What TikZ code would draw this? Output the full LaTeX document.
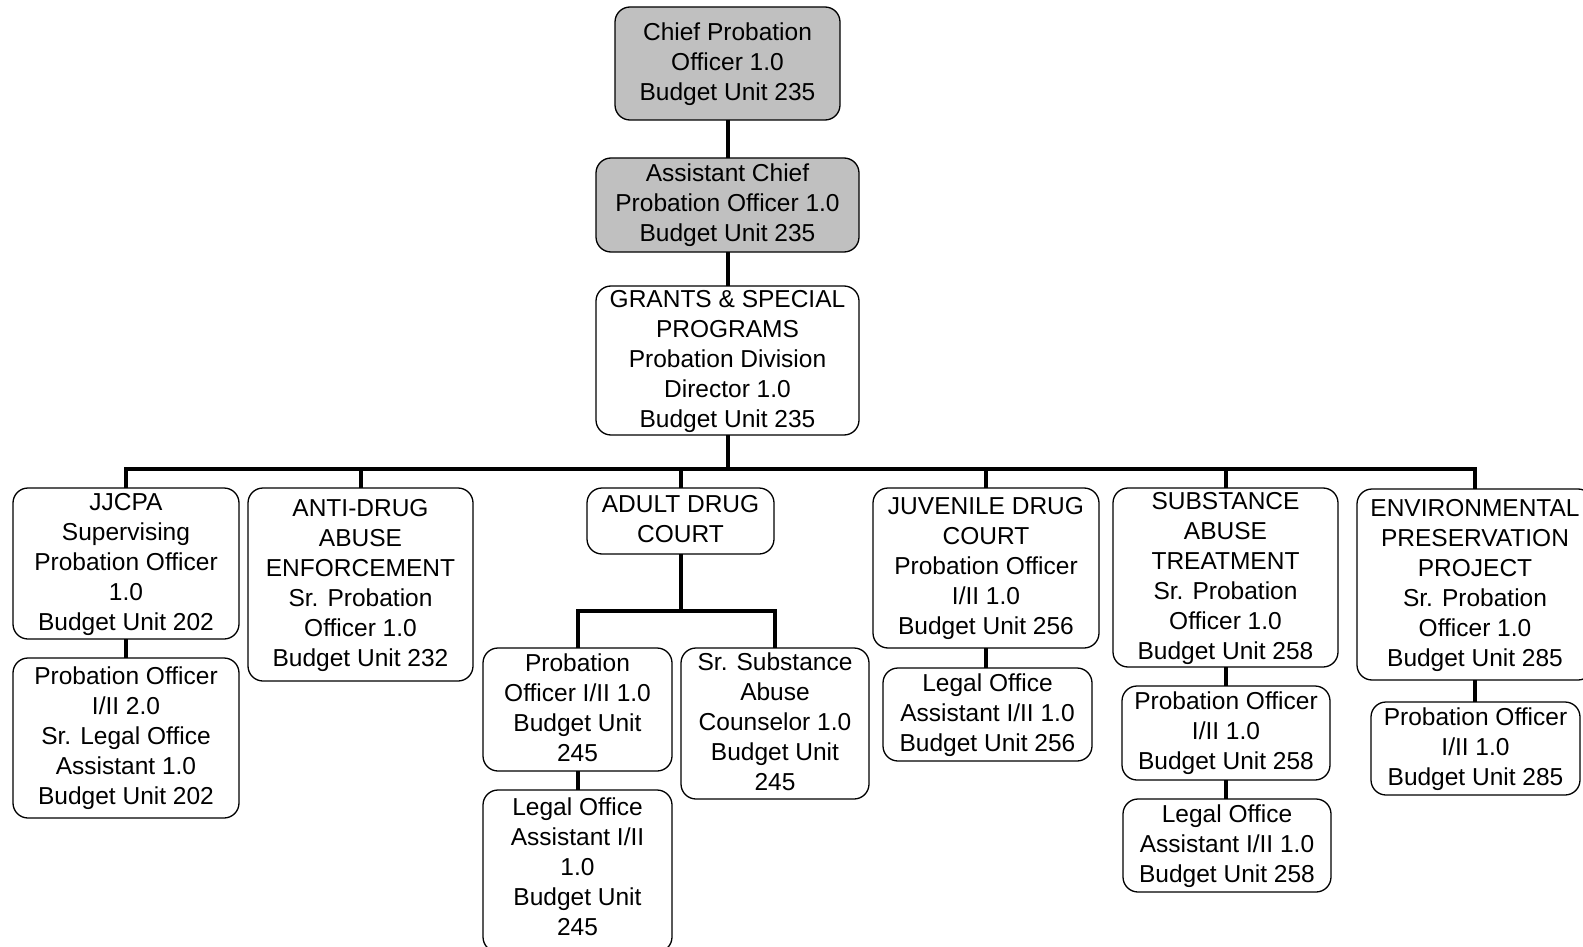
\documentclass[tikz,border=0pt]{standalone}
\usepackage{fontspec}
\setmainfont{Liberation Sans}
\begin{document}
\begin{tikzpicture}[x=1pt,y=-1pt,
  box/.style={draw=black, line width=1.3pt, rounded corners=15pt, fill=white,
    inner sep=0pt, outer sep=0pt, align=center,
    font=\fontsize{24.5}{30}\selectfont, text depth=4pt},
  topbox/.style={box, fill=boxgray},
  conn/.style={draw=black, line width=4pt}]
\definecolor{boxgray}{RGB}{192,192,192}
\useasboundingbox (0,0) rectangle (1583,947);
\clip (0,0) rectangle (1583,947);
% top chain
\node[topbox, minimum width=225, minimum height=113] (chief) at (727.5,63.5)
  {Chief Probation\\Officer 1.0\\Budget Unit 235};
\node[topbox, minimum width=263, minimum height=94] (asst) at (727.5,205)
  {Assistant Chief\\Probation Officer 1.0\\Budget Unit 235};
\node[box, minimum width=263, minimum height=149] (grants) at (727.5,360.5)
  {GRANTS \& SPECIAL\\PROGRAMS\\Probation Division\\Director 1.0\\Budget Unit 235};
% second level
\node[box, minimum width=226, minimum height=151] (jjcpa) at (126,563.5)
  {JJCPA\\Supervising\\Probation Officer\\1.0\\Budget Unit 202};
\node[box, minimum width=226, minimum height=160] (jjcpa2) at (126,738)
  {Probation Officer\\I/II 2.0\\Sr. Legal Office\\Assistant 1.0\\Budget Unit 202};
\node[box, minimum width=225, minimum height=193] (anti) at (360.5,584.5)
  {ANTI-DRUG\\ABUSE\\ENFORCEMENT\\Sr. Probation\\Officer 1.0\\Budget Unit 232};
\node[box, minimum width=187, minimum height=66] (adult) at (680.5,521)
  {ADULT DRUG\\COURT};
\node[box, minimum width=189, minimum height=123] (po245) at (577.5,709.5)
  {Probation\\Officer I/II 1.0\\Budget Unit\\245};
\node[box, minimum width=188, minimum height=151] (sub245) at (775,723.5)
  {Sr. Substance\\Abuse\\Counselor 1.0\\Budget Unit\\245};
\node[box, text depth=8pt, minimum width=189, minimum height=162] (legal245) at (577.5,871)
  {Legal Office\\Assistant I/II\\1.0\\Budget Unit\\245};
\node[box, minimum width=226, minimum height=160] (juv) at (986,568)
  {JUVENILE DRUG\\COURT\\Probation Officer\\I/II 1.0\\Budget Unit 256};
\node[box, minimum width=209, minimum height=93] (legal256) at (987.5,714.5)
  {Legal Office\\Assistant I/II 1.0\\Budget Unit 256};
\node[box, minimum width=225, minimum height=179] (sat) at (1225.5,577.5)
  {SUBSTANCE\\ABUSE\\TREATMENT\\Sr. Probation\\Officer 1.0\\Budget Unit 258};
\node[box, minimum width=208, minimum height=94] (po258) at (1226,733)
  {Probation Officer\\I/II 1.0\\Budget Unit 258};
\node[box, minimum width=208, minimum height=93] (legal258) at (1227,845.5)
  {Legal Office\\Assistant I/II 1.0\\Budget Unit 258};
\node[box, minimum width=236, minimum height=191] (env) at (1475,584.5)
  {ENVIRONMENTAL\\PRESERVATION\\PROJECT\\Sr. Probation\\Officer 1.0\\Budget Unit 285};
\node[box, minimum width=209, minimum height=93] (po285) at (1475.5,748.5)
  {Probation Officer\\I/II 1.0\\Budget Unit 285};
% connectors
\coordinate (bus) at (0,469);
\coordinate (subbus) at (0,611);
\draw[conn] (chief.south) -- (asst.north);
\draw[conn] (asst.south) -- (grants.north);
\draw[conn] (grants.south) -- (grants.south |- bus);
\draw[conn] (jjcpa.north) -- (jjcpa.north |- bus) -- (env.north |- bus) -- (env.north);
\foreach \n in {anti,adult,juv,sat}
  \draw[conn] (\n.north) -- (\n.north |- bus);
\draw[conn] (jjcpa.south) -- (jjcpa.south |- jjcpa2.north);
\draw[conn] (adult.south) -- (adult.south |- subbus);
\draw[conn] (po245.north) -- (po245.north |- subbus) -- (sub245.north |- subbus) -- (sub245.north);
\draw[conn] (po245.south) -- (po245.south |- legal245.north);
\draw[conn] (juv.south) -- (juv.south |- legal256.north);
\draw[conn] (sat.south) -- (sat.south |- po258.north);
\draw[conn] (po258.south) -- (po258.south |- legal258.north);
\draw[conn] (env.south) -- (env.south |- po285.north);
\end{tikzpicture}
\end{document}
